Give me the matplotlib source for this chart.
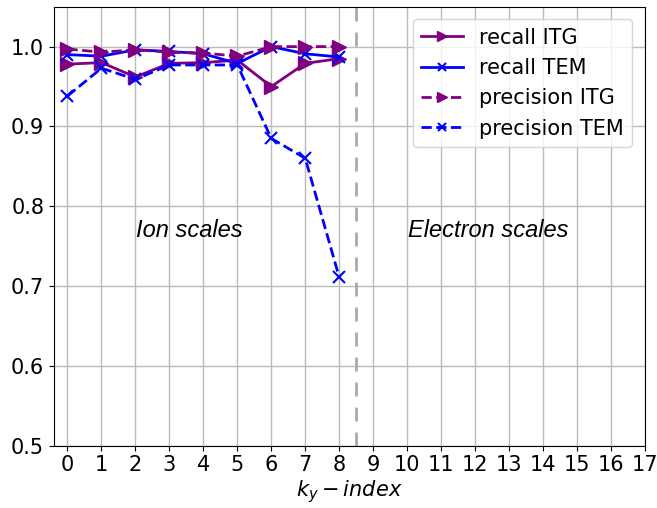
import matplotlib
matplotlib.use("Agg")
import matplotlib.pyplot as plt

# ky-index for the measured points
ky = [0, 1, 2, 3, 4, 5, 6, 7, 8]

recall_itg = [0.978, 0.980, 0.962, 0.979, 0.980, 0.983, 0.950, 0.979, 0.985]
recall_tem = [0.990, 0.988, 0.996, 0.994, 0.991, 0.979, 1.000, 0.991, 0.987]
precision_itg = [0.997, 0.993, 0.996, 0.993, 0.992, 0.988, 1.000, 1.000, 1.000]
precision_tem = [0.938, 0.973, 0.959, 0.977, 0.977, 0.977, 0.885, 0.860, 0.711]

xticks = list(range(18))
yticks = [0.5, 0.6, 0.7, 0.8, 0.9, 1.0]

fig = plt.figure(figsize=(6.57, 5.08), dpi=100)
ax = fig.add_axes([0.082, 0.1226, 0.8997, 0.8642])

ax.plot(ky, recall_itg, '->', color='purple', lw=2, ms=10, label='recall ITG')
ax.plot(ky, recall_tem, '-x', color='blue', lw=2, ms=8, mew=1.5, label='recall TEM')
ax.plot(ky, precision_itg, '-->', color='purple', lw=2, ms=10, label='precision ITG')
ax.plot(ky, precision_tem, '--x', color='blue', lw=2, ms=8, mew=1.5, label='precision TEM')

# boundary between ion and electron scales
ax.axvline(8.5, color='darkgray', ls=(0, (5, 4)), lw=2)

ax.text(3.6, 0.77, 'Ion scales', fontsize=17, style='italic',
        family='Liberation Sans', ha='center', va='center')
ax.text(12.4, 0.77, 'Electron scales', fontsize=17, style='italic',
        family='Liberation Sans', ha='center', va='center')

ax.set_xlim(-0.4, 17)
ax.set_ylim(0.5, 1.05)
ax.set_xticks(xticks)
ax.set_yticks(yticks)
ax.tick_params(labelsize=15)
ax.set_xlabel('$k_y - index$', fontsize=15, labelpad=2)
ax.grid(True, color='#bbbbbb', lw=1)
ax.legend(loc='upper right', fontsize=15, handlelength=2, markerscale=0.7,
          borderaxespad=0.6)

plt.savefig('out.png', dpi=100)
